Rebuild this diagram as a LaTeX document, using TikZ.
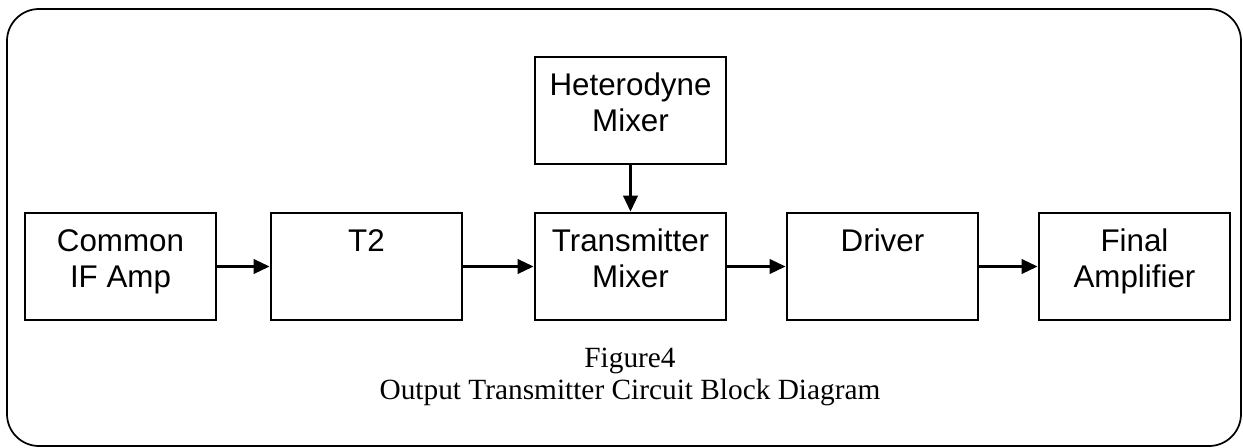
\documentclass[tikz,border=0pt]{standalone}
\usepackage{fontspec}
\setmainfont{Liberation Serif}
\newfontfamily\blockfont{Liberation Sans}
\usetikzlibrary{arrows.meta}

\tikzset{
  block/.style={draw, line width=2.2pt, minimum width=143.25pt,
    inner xsep=0pt, inner ysep=0pt, text height=28.5pt, text depth=51.75pt,
    align=center, font=\blockfont\fontsize{23.5}{27}\selectfont},
  twoline/.style={text height=55.5pt, text depth=24.75pt},
  sig/.style={-{Triangle[length=12pt,width=11pt]}, line width=1.6pt},
}

\begin{document}
\begin{tikzpicture}[x=0.75pt,y=-0.75pt]
  \useasboundingbox (0,0) rectangle (1243,447);
  %frame
  \draw[line width=1.3pt, rounded corners=24pt] (7,9) rectangle (1241,446);
  %blocks
  \node[block, twoline] (IF) at (120.5,266.5) {Common\\IF Amp};
  \node[block] (T2) at (366.5,266.5) {T2};
  \node[block, twoline] (TM) at (630.5,266.5) {Transmitter\\Mixer};
  \node[block, twoline] (HM) at (630.5,110.5) {Heterodyne\\Mixer};
  \node[block] (DR) at (882.5,266.5) {Driver};
  \node[block, twoline] (FA) at (1134.5,266.5) {Final\\Amplifier};
  %signal path
  \draw[sig] (IF) -- (T2);
  \draw[sig] (T2) -- (TM);
  \draw[sig] (HM) -- (TM);
  \draw[sig] (TM) -- (DR);
  \draw[sig] (DR) -- (FA);
  %caption
  \node[anchor=base, align=center, inner sep=0pt, font=\fontsize{22}{24}\selectfont]
    (cap) at (630,399) {Figure4\\Output Transmitter Circuit Block Diagram};
\end{tikzpicture}
\end{document}
